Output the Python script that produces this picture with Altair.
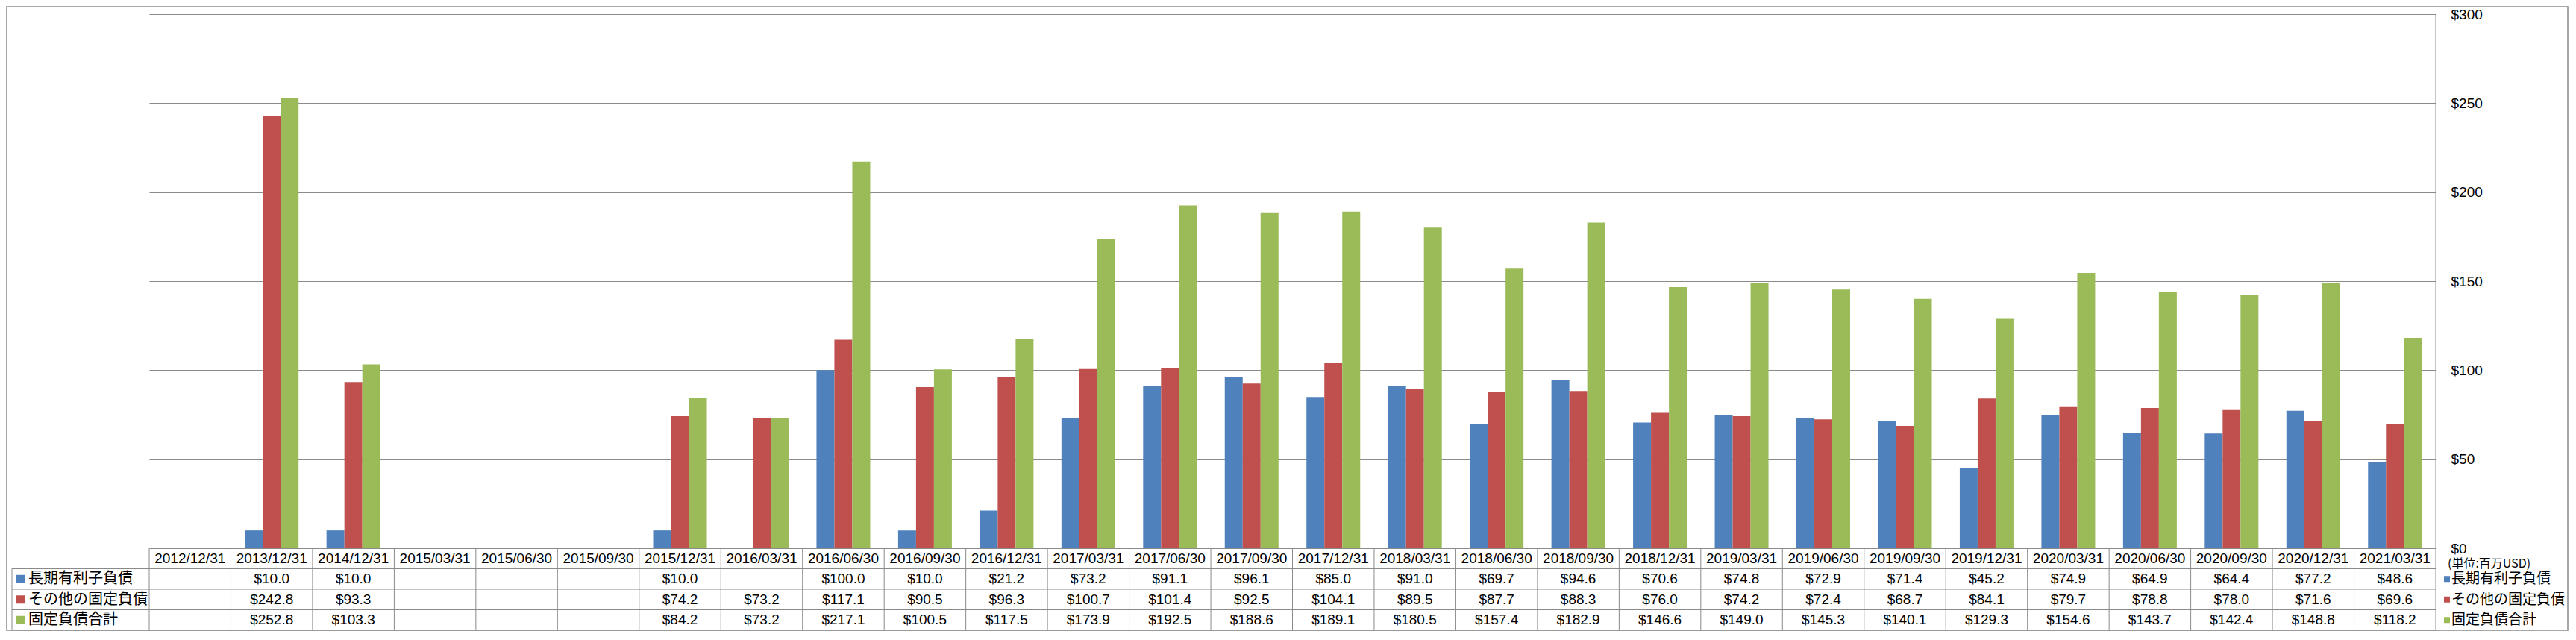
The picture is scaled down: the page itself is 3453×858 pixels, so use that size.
import altair as alt
import pandas as pd

dates = ["2012/12/31", "2013/12/31", "2014/12/31", "2015/03/31", "2015/06/30", "2015/09/30",
         "2015/12/31", "2016/03/31", "2016/06/30", "2016/09/30", "2016/12/31", "2017/03/31",
         "2017/06/30", "2017/09/30", "2017/12/31", "2018/03/31", "2018/06/30", "2018/09/30",
         "2018/12/31", "2019/03/31", "2019/06/30", "2019/09/30", "2019/12/31", "2020/03/31",
         "2020/06/30", "2020/09/30", "2020/12/31", "2021/03/31"]

series_names = ["長期有利子負債", "その他の固定負債", "固定負債合計"]
series_colors = ["#4F81BD", "#C0504D", "#9BBB59"]

long_term_debt = [None, 10.0, 10.0, None, None, None, 10.0, None, 100.0, 10.0, 21.2, 73.2,
                  91.1, 96.1, 85.0, 91.0, 69.7, 94.6, 70.6, 74.8, 72.9, 71.4, 45.2, 74.9,
                  64.9, 64.4, 77.2, 48.6]
other_fixed = [None, 242.8, 93.3, None, None, None, 74.2, 73.2, 117.1, 90.5, 96.3, 100.7,
               101.4, 92.5, 104.1, 89.5, 87.7, 88.3, 76.0, 74.2, 72.4, 68.7, 84.1, 79.7,
               78.8, 78.0, 71.6, 69.6]
total_fixed = [None, 252.8, 103.3, None, None, None, 84.2, 73.2, 217.1, 100.5, 117.5, 173.9,
               192.5, 188.6, 189.1, 180.5, 157.4, 182.9, 146.6, 149.0, 145.3, 140.1, 129.3, 154.6,
               143.7, 142.4, 148.8, 118.2]

y_ticks = [0, 50, 100, 150, 200, 250, 300]
unit_label = "(単位:百万USD)"

rows = []
for name, vals in zip(series_names, [long_term_debt, other_fixed, total_fixed]):
    for d, v in zip(dates, vals):
        rows.append({"date": d, "series": name, "value": v,
                     "label": "" if v is None else f"${v:.1f}"})
df = pd.DataFrame(rows)
dates_df = pd.DataFrame({"date": dates})
series_df = pd.DataFrame({"series": series_names})

W, H = 3065, 716
GRID = "#8a8a8a"
LATIN = "Liberation Sans, Arial, sans-serif"
CJK = "Noto Sans CJK JP, sans-serif"

# table geometry (pixels relative to plot origin)
row_h = 27.5
header_c = H + row_h / 2
row_c = [H + row_h * (i + 1) + row_h / 2 for i in range(3)]
table_bottom = H + row_h * 4
label_left = -184

x_scale = alt.Scale(domain=dates, paddingInner=0, paddingOuter=0)
color_scale = alt.Scale(domain=series_names, range=series_colors)

bars = alt.Chart(df).mark_bar().encode(
    x=alt.X("date:N", scale=x_scale, axis=None),
    xOffset=alt.XOffset("series:N", scale=alt.Scale(domain=series_names, paddingInner=0, paddingOuter=0.78)),
    y=alt.Y("value:Q", scale=alt.Scale(domain=[0, 300], nice=False),
            axis=alt.Axis(orient="right", values=y_ticks, grid=True, gridColor=GRID, gridWidth=1,
                          domain=False, ticks=False, labelPadding=20,
                          labelExpr="'$' + datum.value", labelFont=LATIN, labelFontSize=19,
                          labelColor="#000000", title=None)),
    color=alt.Color("series:N", scale=color_scale, legend=None),
)

layers = [bars]

# vertical table lines at category boundaries
layers.append(alt.Chart(dates_df).mark_rule(color=GRID, strokeWidth=1).encode(
    x=alt.X("date:N", scale=x_scale, axis=None, bandPosition=0),
    y=alt.value(H), y2=alt.value(table_bottom)))
# right border of plot + table
layers.append(alt.Chart(dates_df.head(1)).mark_rule(color=GRID, strokeWidth=1).encode(
    x=alt.value("width"), y=alt.value(0), y2=alt.value(table_bottom)))
# label column left line
layers.append(alt.Chart(dates_df.head(1)).mark_rule(color=GRID, strokeWidth=1).encode(
    x=alt.value(label_left), y=alt.value(H + row_h), y2=alt.value(table_bottom)))
# horizontal lines
for i in range(1, 5):
    layers.append(alt.Chart(dates_df.head(1)).mark_rule(color=GRID, strokeWidth=1).encode(
        x=alt.value(label_left), x2=alt.value("width"), y=alt.value(H + row_h * i)))

# header row
layers.append(alt.Chart(dates_df).mark_text(font=LATIN, fontSize=19, color="#000000",
                                             baseline="middle", align="center").encode(
    x=alt.X("date:N", scale=x_scale, axis=None),
    y=alt.value(header_c), text="date:N"))

# value rows + label column + right legend
for i, name in enumerate(series_names):
    sub = df[df["series"] == name]
    layers.append(alt.Chart(sub).mark_text(font=LATIN, fontSize=19, color="#000000",
                                           baseline="middle", align="center").encode(
        x=alt.X("date:N", scale=x_scale, axis=None),
        y=alt.value(row_c[i]), text="label:N"))
    sdf = series_df[series_df["series"] == name]
    layers.append(alt.Chart(sdf).mark_square(size=121, opacity=1).encode(
        x=alt.value(-172.5), y=alt.value(row_c[i]),
        color=alt.Color("series:N", scale=color_scale, legend=None)))
    layers.append(alt.Chart(sdf).mark_text(font=CJK, fontSize=20, color="#000000",
                                           baseline="middle", align="left").encode(
        x=alt.value(-162), y=alt.value(row_c[i]), text="series:N"))
    layers.append(alt.Chart(sdf).mark_square(size=64, opacity=1).encode(
        x=alt.value(W + 15), y=alt.value(row_c[i]),
        color=alt.Color("series:N", scale=color_scale, legend=None)))
    layers.append(alt.Chart(sdf).mark_text(font=CJK, fontSize=19, color="#000000",
                                           baseline="middle", align="left").encode(
        x=alt.value(W + 21), y=alt.value(row_c[i]), text="series:N"))

# unit label
layers.append(alt.Chart(pd.DataFrame({"t": [unit_label]})).mark_text(
    font=CJK, fontSize=16, color="#000000", baseline="middle", align="left").encode(
    x=alt.value(W + 16), y=alt.value(header_c + 7), text="t:N"))

# outer chart border
layers.append(alt.Chart(pd.DataFrame({"t": [0]})).mark_rect(
    fill="transparent", stroke=GRID, strokeWidth=1.5).encode(
    x=alt.value(-191), x2=alt.value(W + 177), y=alt.value(-10), y2=alt.value(table_bottom)))

chart = alt.layer(*layers).resolve_scale(color="shared").properties(
    width=W, height=H,
    autosize=alt.AutoSizeParams(type="none"),
    padding={"left": 192, "top": 11, "right": 178, "bottom": 111},
    background="white",
).configure_view(stroke=None)

chart.save("out.html", embed_options={"renderer": "svg", "actions": False})
